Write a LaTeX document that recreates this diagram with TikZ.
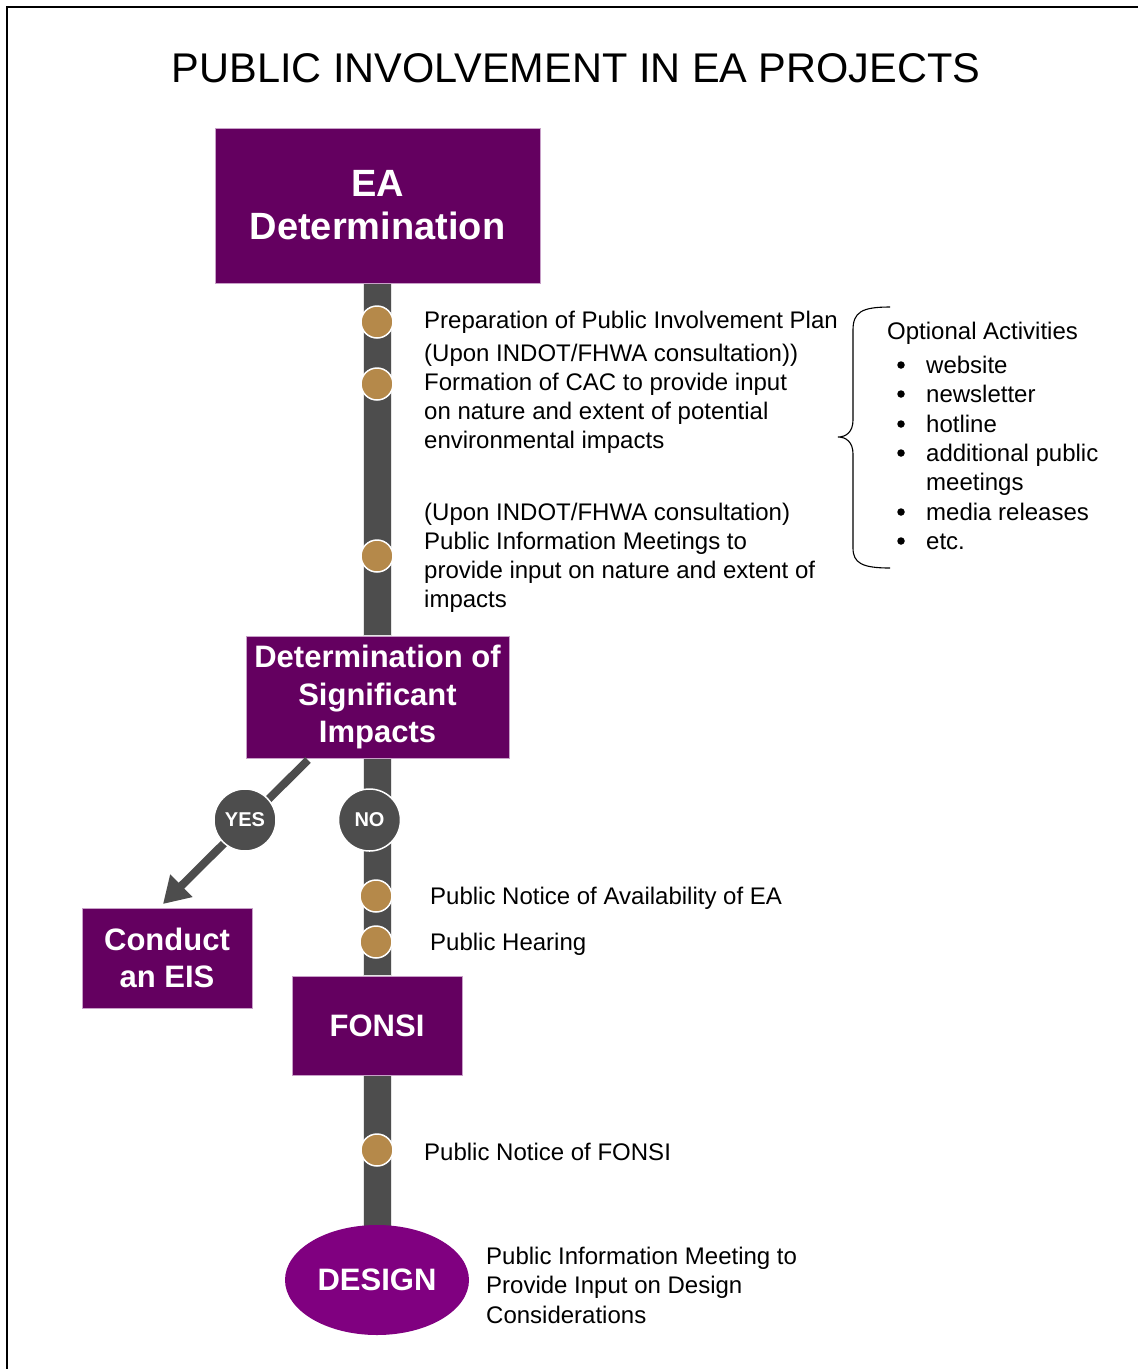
\documentclass[tikz,border=0pt]{standalone}
\usepackage{fontspec}
\setmainfont{Liberation Sans}
\usetikzlibrary{shapes.geometric,arrows.meta,calc,backgrounds}
\definecolor{boxpurple}{HTML}{640060}
\definecolor{ellpurple}{HTML}{800080}
\definecolor{bargray}{HTML}{4D4D4D}
\definecolor{dotbrown}{HTML}{B5894A}
\definecolor{edgepurple}{HTML}{C8A0C8}
\newcommand\myBody{\fontsize{24}{29}\selectfont}
\newcommand\myBig{\fontsize{38}{43}\selectfont\bfseries}
\newcommand\myMid{\fontsize{31}{37.5}\selectfont\bfseries}
\tikzset{
  stagebox/.style={rectangle, fill=boxpurple, draw=edgepurple, line width=1pt, text=white, align=center, inner sep=0pt},
  barpart/.style={fill=bargray, draw=white!80!gray, line width=0.8pt},
  dotmark/.style={circle, fill=dotbrown, draw=white, line width=1.5pt, minimum size=32pt, inner sep=0pt},
  decision/.style={circle, fill=bargray, draw=white, line width=1.5pt, minimum size=62pt, inner sep=0pt, text=white, font=\fontsize{20}{24}\selectfont\bfseries},
  txt/.style={anchor=base west, inner sep=0pt, font=\myBody},
  bulletmark/.style={circle, fill=black, minimum size=7.5pt, inner sep=0pt},
}
\begin{document}
\begin{tikzpicture}[x=1pt,y=-1pt]
\useasboundingbox (0,0) rectangle (1138,1369);
% frame
\draw[line width=2pt] (7,1369) -- (7,7) -- (1138,7);
% title
\node[anchor=base, inner sep=0pt, font=\fontsize{41.5}{48}\selectfont] (title) at (576,82) {PUBLIC INVOLVEMENT IN EA PROJECTS};
% stage nodes
\node[stagebox, minimum width=325pt, minimum height=155pt, font=\myBig] (ea) at (377.5,205.5) {EA\\Determination};
\node[stagebox, minimum width=263pt, minimum height=122pt, font=\myMid] (dsi) at (377.5,697) {Determination of\\Significant\\Impacts};
\node[stagebox, minimum width=170pt, minimum height=100pt, font=\myMid] (eis) at (167,958) {Conduct\\an EIS};
\node[stagebox, minimum width=170pt, minimum height=99pt, font=\myMid] (fonsi) at (377,1025.5) {FONSI};
\node[ellipse, fill=ellpurple, minimum width=184pt, minimum height=110pt, inner sep=0pt, text=white, font=\myMid] (design) at (377,1280) {DESIGN};
% bars behind
\begin{pgfonlayer}{background}
\path[barpart] ($(ea.south)+(-14.5,0)$) rectangle ($(dsi.north)+(13.5,0)$);
\path[barpart] ($(dsi.south)+(-14.5,0)$) rectangle ($(fonsi.north)+(14,0)$);
\path[barpart] ($(fonsi.south)+(-14,0)$) rectangle ($(design.north)+(14,8)$);
\end{pgfonlayer}
% yes arrow
\coordinate (ystart) at (308,760);
\coordinate (yend) at (163,904);
\draw[bargray, line width=8pt, -{Triangle[length=26pt,width=30pt]}] (ystart) -- (yend);
\node[decision] (yes) at (245,820) {YES};
\node[decision] (no) at (369.5,820) {NO};
% dots
\node[dotmark] (d1) at (377,322) {};
\node[dotmark] (d2) at (377,384) {};
\node[dotmark] (d3) at (377,556) {};
\node[dotmark] (d4) at (376,896) {};
\node[dotmark] (d5) at (376,942) {};
\node[dotmark] (d6) at (377,1150) {};
% texts
\node[txt] (t1) at (424,328) {Preparation of Public Involvement Plan};
\node[txt] (t2a) at (424,361.5) {(Upon INDOT/FHWA consultation))};
\node[txt] (t2b) at (424,390.5) {Formation of CAC to provide input};
\node[txt] (t2c) at (424,419.5) {on nature and extent of potential};
\node[txt] (t2d) at (424,448.5) {environmental impacts};
\node[txt] (t3a) at (424,520) {(Upon INDOT/FHWA consultation)};
\node[txt] (t3b) at (424,549) {Public Information Meetings to};
\node[txt] (t3c) at (424,578) {provide input on nature and extent of};
\node[txt] (t3d) at (424,607) {impacts};
\node[txt] (t4) at (430,904) {Public Notice of Availability of EA};
\node[txt] (t5) at (430,950) {Public Hearing};
\node[txt] (t6) at (424,1160) {Public Notice of FONSI};
\node[txt] (t7a) at (486,1264) {Public Information Meeting to};
\node[txt] (t7b) at (486,1293.5) {Provide Input on Design};
\node[txt] (t7c) at (486,1323) {Considerations};
% optional activities
\node[txt] (oa) at (887,339) {Optional Activities};
\foreach \yy/\lab/\nm in {373/website/o1, 402/newsletter/o2, 432/hotline/o3, 461/additional public/o4, 520/media releases/o6, 549/etc./o7}{
  \node[bulletmark] (b\nm) at (901,\yy-8) {};
  \node[txt] (\nm) at (926,\yy) {\lab};
}
\node[txt] (o5) at (926,490) {meetings};
% brace
\draw[line width=1.1pt] (890,307) .. controls (862,307) and (853,312) .. (853,330) -- (853,420) .. controls (853,432) and (846,437) .. (838,437) .. controls (846,437) and (853,442) .. (853,454) -- (853,548) .. controls (853,563) and (862,568) .. (890,568);
\end{tikzpicture}
\end{document}
